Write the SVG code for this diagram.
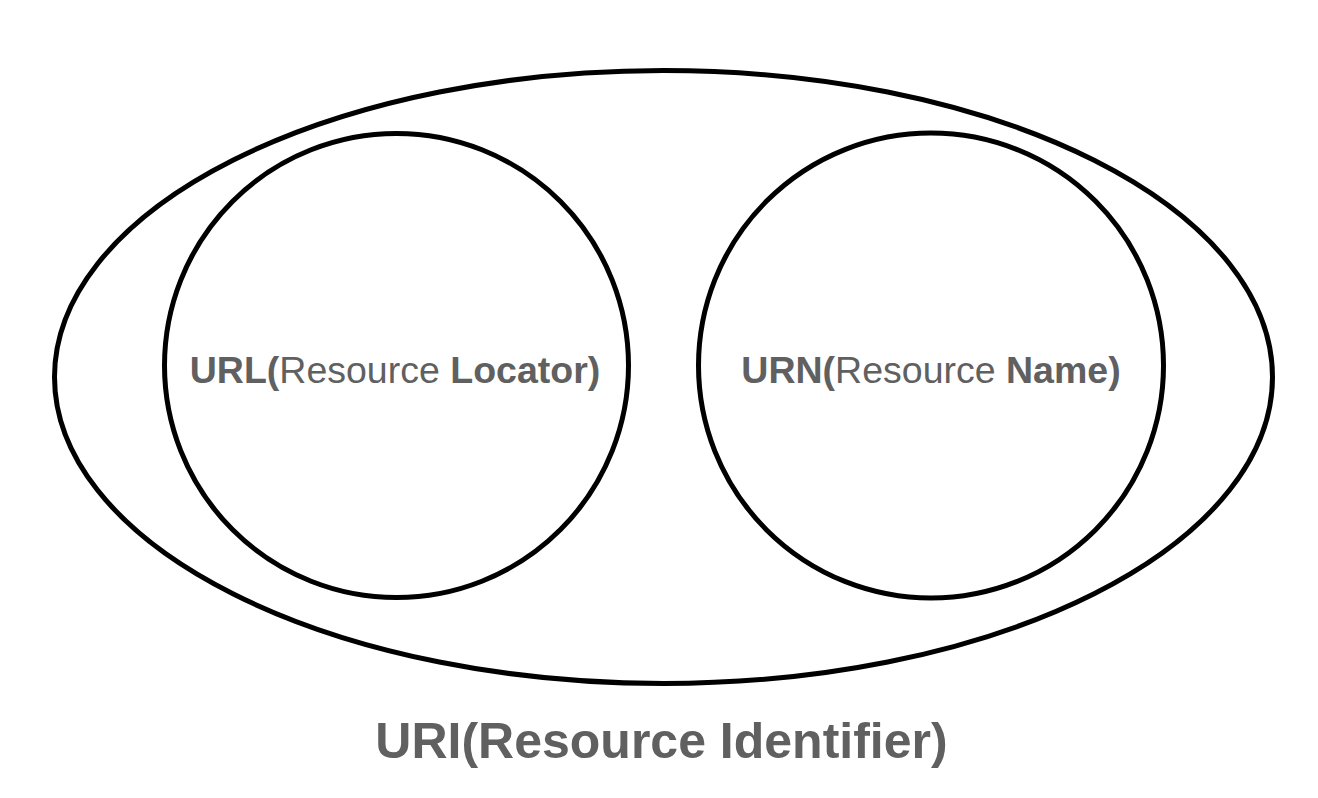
<svg xmlns="http://www.w3.org/2000/svg" width="1318" height="798" viewBox="0 0 1318 798">
<style>
.shape{fill:none;stroke:#000;stroke-width:5}
.lbl{font-family:"Liberation Sans",Arial,sans-serif;fill:#606060;text-anchor:middle}
.b{font-weight:bold}
</style>
<rect width="1318" height="798" fill="#fff"/>
<g id="uri">
<ellipse class="shape" cx="663.5" cy="377" rx="609" ry="306.5"/>
<text class="lbl b" x="661.5" y="758" font-size="50">URI(Resource Identifier)</text>
</g>
<g id="url">
<circle class="shape" cx="396.5" cy="365.5" r="232"/>
<text class="lbl" x="395" y="383" font-size="37.5"><tspan class="b">URL(</tspan>Resource <tspan class="b">Locator)</tspan></text>
</g>
<g id="urn">
<circle class="shape" cx="931" cy="365.5" r="232.5"/>
<text class="lbl" x="931" y="383" font-size="37.5"><tspan class="b">URN(</tspan>Resource <tspan class="b">Name)</tspan></text>
</g>
<g id="connectors"/>
</svg>
